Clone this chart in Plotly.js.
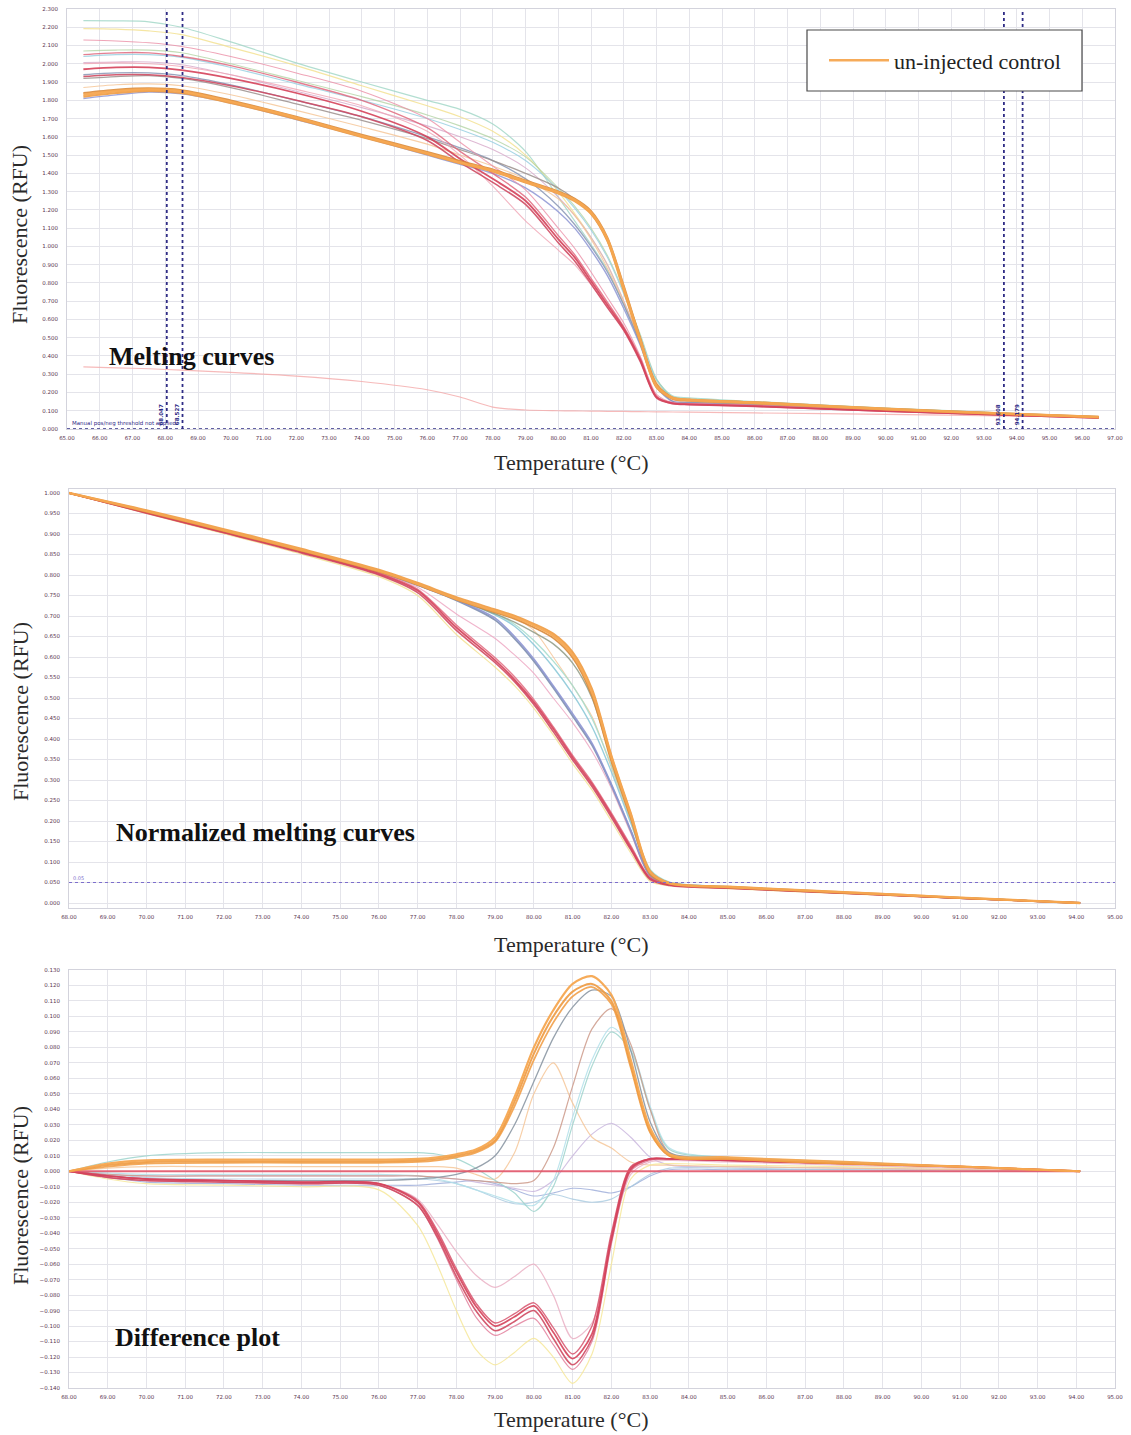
<!DOCTYPE html>
<html><head><meta charset="utf-8">
<script src="https://cdn.plot.ly/plotly-3.0.1.min.js"></script>
<style>html,body{margin:0;padding:0;background:#fff;}#chart{width:1131px;height:1435px;}</style>
</head><body><div id="chart"></div>
<script>
// ---------- Panel 1: melting curves (RFU) ----------
const T1 = [65.5, 66.5, 67.5, 68.5, 70, 72, 74, 76, 77, 78, 79, 80, 80.5, 81, 81.5, 82, 82.5, 83, 83.5, 84, 86, 90, 94, 96.5];
const mPinkLow = [0.34, 0.335, 0.33, 0.322, 0.31, 0.29, 0.26, 0.215, 0.175, 0.12, 0.104, 0.1, 0.099, 0.098, 0.097, 0.096, 0.095, 0.094, 0.093, 0.092, 0.088, 0.08, 0.071, 0.066];
const mTeal1 = [2.236, 2.235, 2.23, 2.2, 2.12, 2.005, 1.9, 1.8, 1.75, 1.67, 1.52, 1.27, 1.14, 1.01, 0.87, 0.68, 0.47, 0.27, 0.18, 0.17, 0.15, 0.115, 0.085, 0.068];
const mYellow1 = [2.193, 2.19, 2.18, 2.16, 2.09, 1.99, 1.88, 1.77, 1.71, 1.63, 1.5, 1.3, 1.18, 1.05, 0.9, 0.7, 0.48, 0.26, 0.17, 0.16, 0.145, 0.11, 0.082, 0.066];
const mGreen1 = [2.07, 2.075, 2.075, 2.06, 2.0, 1.91, 1.82, 1.72, 1.66, 1.59, 1.49, 1.32, 1.22, 1.1, 0.95, 0.75, 0.52, 0.275, 0.172, 0.163, 0.147, 0.113, 0.084, 0.067];
const mTeal2 = [2.04, 2.05, 2.05, 2.035, 1.98, 1.89, 1.8, 1.7, 1.64, 1.57, 1.47, 1.31, 1.21, 1.09, 0.94, 0.74, 0.51, 0.27, 0.17, 0.162, 0.146, 0.112, 0.083, 0.066];
const mLav1 = [2.007, 2.01, 2.01, 1.995, 1.94, 1.85, 1.76, 1.66, 1.6, 1.53, 1.43, 1.27, 1.17, 1.05, 0.9, 0.7, 0.48, 0.25, 0.16, 0.155, 0.14, 0.108, 0.08, 0.065];
const mPeach1 = [1.87, 1.885, 1.89, 1.88, 1.83, 1.745, 1.655, 1.56, 1.5, 1.44, 1.37, 1.26, 1.17, 1.04, 0.88, 0.69, 0.48, 0.25, 0.165, 0.158, 0.143, 0.11, 0.082, 0.066];
const mBlue1 = [1.81, 1.83, 1.845, 1.835, 1.785, 1.695, 1.6, 1.5, 1.45, 1.4, 1.32, 1.19, 1.1, 0.98, 0.84, 0.66, 0.46, 0.23, 0.15, 0.145, 0.132, 0.102, 0.078, 0.063];
const mBlue2 = [1.94, 1.95, 1.95, 1.935, 1.885, 1.8, 1.71, 1.6, 1.54, 1.47, 1.37, 1.22, 1.12, 1.0, 0.86, 0.68, 0.47, 0.24, 0.152, 0.146, 0.133, 0.103, 0.078, 0.063];
const mGray1 = [1.92, 1.93, 1.935, 1.92, 1.87, 1.78, 1.69, 1.59, 1.53, 1.47, 1.4, 1.32, 1.26, 1.18, 1.03, 0.77, 0.5, 0.24, 0.165, 0.158, 0.143, 0.11, 0.082, 0.066];
const mRed5 = [2.0, 2.005, 2.0, 1.985, 1.94, 1.86, 1.77, 1.63, 1.5, 1.33, 1.14, 0.98, 0.9, 0.79, 0.67, 0.54, 0.38, 0.18, 0.142, 0.137, 0.127, 0.099, 0.076, 0.062];
const mRed4 = [2.13, 2.125, 2.115, 2.095, 2.04, 1.95, 1.85, 1.7, 1.57, 1.44, 1.31, 1.1, 0.99, 0.86, 0.72, 0.58, 0.4, 0.19, 0.145, 0.14, 0.13, 0.1, 0.077, 0.063];
const mRed3 = [1.93, 1.94, 1.94, 1.925, 1.88, 1.8, 1.71, 1.58, 1.46, 1.35, 1.23, 1.02, 0.92, 0.795, 0.665, 0.54, 0.37, 0.17, 0.138, 0.133, 0.123, 0.097, 0.074, 0.06];
const mRed2 = [2.05, 2.06, 2.06, 2.04, 1.99, 1.9, 1.8, 1.65, 1.52, 1.4, 1.27, 1.06, 0.955, 0.825, 0.695, 0.56, 0.39, 0.18, 0.142, 0.137, 0.127, 0.099, 0.076, 0.062];
const mRed1 = [1.97, 1.98, 1.98, 1.965, 1.92, 1.84, 1.74, 1.6, 1.48, 1.37, 1.25, 1.04, 0.94, 0.81, 0.68, 0.55, 0.38, 0.175, 0.14, 0.135, 0.125, 0.098, 0.075, 0.061];
const mCtrl3 = [1.84, 1.858, 1.866, 1.856, 1.8, 1.71, 1.612, 1.518, 1.468, 1.422, 1.362, 1.302, 1.262, 1.195, 1.05, 0.785, 0.5, 0.245, 0.172, 0.162, 0.147, 0.112, 0.083, 0.067];
const mCtrl2 = [1.82, 1.84, 1.852, 1.84, 1.785, 1.698, 1.6, 1.505, 1.455, 1.41, 1.35, 1.29, 1.248, 1.178, 1.03, 0.76, 0.48, 0.228, 0.165, 0.155, 0.14, 0.107, 0.08, 0.064];
const mCtrl1 = [1.83, 1.85, 1.86, 1.85, 1.792, 1.705, 1.605, 1.51, 1.46, 1.415, 1.355, 1.295, 1.255, 1.185, 1.04, 0.77, 0.49, 0.235, 0.17, 0.16, 0.145, 0.11, 0.082, 0.066];
const thresholdsT = [68.047, 68.527, 93.608, 94.179];
const thresholdLabels = ['68.047', '68.527', '93.608', '94.179'];

// ---------- Panel 2: normalized melting curves ----------
const T2 = [68, 70, 72, 74, 76, 77, 78, 79, 79.5, 80, 80.5, 81, 81.5, 82, 82.5, 83, 83.5, 85, 88, 91, 94.1];
const nYellow = [1.0, 0.95, 0.901, 0.851, 0.796, 0.75, 0.655, 0.575, 0.53, 0.475, 0.41, 0.34, 0.276, 0.2, 0.122, 0.053, 0.042, 0.035, 0.023, 0.011, 0.0];
const nPink = [1.0, 0.953, 0.905, 0.857, 0.806, 0.77, 0.705, 0.645, 0.605, 0.56, 0.5, 0.44, 0.37, 0.28, 0.17, 0.065, 0.046, 0.038, 0.025, 0.012, 0.0];
const nPeach = [1.0, 0.957, 0.91, 0.862, 0.811, 0.779, 0.744, 0.712, 0.695, 0.665, 0.6, 0.53, 0.455, 0.33, 0.2, 0.075, 0.048, 0.039, 0.026, 0.013, 0.0];
const nTeal2 = [1.0, 0.956, 0.91, 0.862, 0.811, 0.779, 0.743, 0.706, 0.68, 0.64, 0.59, 0.53, 0.45, 0.335, 0.205, 0.082, 0.051, 0.04, 0.026, 0.013, 0.0];
const nTeal1 = [1.0, 0.956, 0.909, 0.861, 0.81, 0.778, 0.742, 0.703, 0.675, 0.63, 0.575, 0.51, 0.43, 0.32, 0.195, 0.078, 0.05, 0.04, 0.026, 0.013, 0.0];
const nBlue2 = [1.0, 0.955, 0.908, 0.86, 0.808, 0.775, 0.738, 0.69, 0.645, 0.59, 0.525, 0.456, 0.385, 0.287, 0.176, 0.067, 0.046, 0.038, 0.025, 0.012, 0.0];
const nBlue1 = [1.0, 0.955, 0.908, 0.86, 0.809, 0.776, 0.74, 0.695, 0.65, 0.595, 0.53, 0.462, 0.39, 0.29, 0.178, 0.068, 0.046, 0.038, 0.025, 0.012, 0.0];
const nGray = [1.0, 0.955, 0.908, 0.86, 0.809, 0.777, 0.741, 0.705, 0.685, 0.66, 0.632, 0.585, 0.5, 0.35, 0.212, 0.074, 0.048, 0.039, 0.026, 0.013, 0.0];
const nRed3 = [1.0, 0.953, 0.905, 0.857, 0.805, 0.765, 0.678, 0.598, 0.552, 0.496, 0.43, 0.36, 0.295, 0.22, 0.14, 0.062, 0.045, 0.037, 0.025, 0.012, 0.0];
const nRed2 = [1.0, 0.951, 0.903, 0.854, 0.8, 0.757, 0.665, 0.586, 0.54, 0.484, 0.418, 0.349, 0.284, 0.209, 0.13, 0.057, 0.043, 0.036, 0.024, 0.012, 0.0];
const nRed1 = [1.0, 0.952, 0.904, 0.856, 0.803, 0.762, 0.672, 0.592, 0.545, 0.49, 0.425, 0.355, 0.29, 0.215, 0.135, 0.06, 0.044, 0.037, 0.024, 0.012, 0.0];
const nCtrl3 = [1.0, 0.954, 0.907, 0.859, 0.808, 0.776, 0.74, 0.709, 0.693, 0.672, 0.646, 0.598, 0.505, 0.345, 0.207, 0.07, 0.047, 0.038, 0.025, 0.012, 0.0];
const nCtrl2 = [1.0, 0.958, 0.912, 0.864, 0.813, 0.781, 0.746, 0.716, 0.701, 0.681, 0.657, 0.612, 0.522, 0.36, 0.22, 0.078, 0.049, 0.04, 0.027, 0.013, 0.0];
const nCtrl1 = [1.0, 0.956, 0.909, 0.861, 0.81, 0.778, 0.742, 0.712, 0.697, 0.677, 0.652, 0.605, 0.515, 0.355, 0.215, 0.075, 0.048, 0.039, 0.026, 0.013, 0.0];
const normThreshold = 0.05;

// ---------- Panel 3: difference plot ----------
const T3 = [68, 69, 70, 72, 74, 76, 77, 77.5, 78, 78.5, 79, 79.5, 80, 80.5, 81, 81.5, 82, 82.5, 83, 83.5, 85, 88, 91, 94.1];
const dBlue1 = [0, -0.004, -0.007, -0.008, -0.009, -0.009, -0.009, -0.008, -0.007, -0.006, -0.008, -0.012, -0.016, -0.014, -0.011, -0.012, -0.014, -0.01, -0.003, 0.001, 0.001, 0.001, 0, 0];
const dBlue2 = [0, -0.002, -0.004, -0.005, -0.005, -0.005, -0.005, -0.006, -0.008, -0.012, -0.017, -0.021, -0.02, -0.015, -0.018, -0.02, -0.018, -0.01, -0.002, 0.002, 0.002, 0.001, 0.001, 0];
const dLav = [0, -0.002, -0.003, -0.003, -0.003, -0.003, -0.003, -0.004, -0.005, -0.007, -0.009, -0.011, -0.013, -0.006, 0.01, 0.024, 0.031, 0.022, 0.009, 0.004, 0.003, 0.002, 0.001, 0];
const dPeach = [0, 0.002, 0.003, 0.003, 0.003, 0.003, 0.003, 0.003, 0.002, -0.002, -0.005, 0.012, 0.05, 0.07, 0.044, 0.022, 0.015, 0.006, 0.004, 0.004, 0.003, 0.002, 0.001, 0];
const dTeal2 = [0, -0.001, -0.002, -0.002, -0.002, -0.002, -0.003, -0.005, -0.008, -0.012, -0.016, -0.02, -0.022, -0.006, 0.035, 0.072, 0.093, 0.08, 0.042, 0.015, 0.009, 0.006, 0.003, 0];
const dTeal1 = [0, 0.006, 0.01, 0.012, 0.012, 0.012, 0.012, 0.011, 0.008, 0.002, -0.006, -0.014, -0.026, -0.01, 0.03, 0.068, 0.09, 0.078, 0.04, 0.014, 0.009, 0.006, 0.003, 0];
const dBrown = [0, -0.002, -0.003, -0.003, -0.003, -0.003, -0.003, -0.004, -0.005, -0.006, -0.007, -0.008, -0.006, 0.015, 0.055, 0.092, 0.105, 0.082, 0.04, 0.012, 0.008, 0.005, 0.003, 0];
const dGray = [0, -0.003, -0.005, -0.006, -0.006, -0.006, -0.005, -0.004, -0.002, 0.002, 0.01, 0.03, 0.058, 0.086, 0.106, 0.117, 0.113, 0.078, 0.032, 0.012, 0.009, 0.006, 0.003, 0];
const dYellow = [0, -0.005, -0.008, -0.009, -0.01, -0.012, -0.035, -0.06, -0.09, -0.115, -0.125, -0.117, -0.108, -0.12, -0.137, -0.118, -0.06, -0.005, 0.004, 0.005, 0.004, 0.003, 0.002, 0];
const dPink = [0, -0.003, -0.005, -0.006, -0.007, -0.008, -0.018, -0.034, -0.052, -0.067, -0.075, -0.068, -0.06, -0.08, -0.108, -0.098, -0.045, -0.002, 0.006, 0.007, 0.006, 0.004, 0.002, 0];
const dRed4 = [0, -0.004, -0.006, -0.007, -0.008, -0.009, -0.022, -0.043, -0.07, -0.094, -0.106, -0.1, -0.095, -0.112, -0.128, -0.11, -0.047, 0.0, 0.007, 0.008, 0.007, 0.005, 0.003, 0];
const dRed3 = [0, -0.003, -0.005, -0.006, -0.007, -0.008, -0.019, -0.038, -0.063, -0.085, -0.098, -0.092, -0.085, -0.101, -0.118, -0.1, -0.04, 0.003, 0.008, 0.008, 0.007, 0.005, 0.003, 0];
const dRed2 = [0, -0.004, -0.006, -0.007, -0.008, -0.009, -0.022, -0.042, -0.068, -0.09, -0.103, -0.097, -0.09, -0.108, -0.125, -0.108, -0.045, 0.001, 0.008, 0.008, 0.007, 0.005, 0.003, 0];
const dRed1 = [0, -0.003, -0.005, -0.006, -0.007, -0.008, -0.02, -0.04, -0.065, -0.087, -0.1, -0.094, -0.087, -0.104, -0.121, -0.105, -0.043, 0.002, 0.008, 0.008, 0.007, 0.005, 0.003, 0];
const dReference = [0, 0, 0, 0, 0, 0, 0, 0, 0, 0, 0, 0, 0, 0, 0, 0, 0, 0, 0, 0, 0, 0, 0, 0];
const dCtrl3 = [0, 0.003, 0.005, 0.0055, 0.0055, 0.0055, 0.006, 0.007, 0.009, 0.012, 0.019, 0.042, 0.072, 0.096, 0.113, 0.119, 0.108, 0.067, 0.025, 0.01, 0.008, 0.005, 0.003, 0];
const dCtrl2 = [0, 0.004, 0.006, 0.0065, 0.0065, 0.0065, 0.007, 0.008, 0.01, 0.013, 0.02, 0.045, 0.076, 0.1, 0.116, 0.121, 0.11, 0.069, 0.026, 0.01, 0.008, 0.005, 0.003, 0];
const dCtrl1 = [0, 0.005, 0.007, 0.0075, 0.0075, 0.0075, 0.008, 0.009, 0.011, 0.014, 0.022, 0.048, 0.08, 0.104, 0.121, 0.126, 0.114, 0.072, 0.028, 0.011, 0.009, 0.006, 0.003, 0];

// ---------- text ----------
const legendName = 'un-injected control';
const panelTitles = ['Melting curves', 'Normalized melting curves', 'Difference plot'];
const xTitle = 'Temperature (°C)';
const yTitle = 'Fluorescence (RFU)';
const thresholdNote = 'Manual pos/neg threshold not applied';

// ---------- build ----------
const W = 1131, H = 1435;
const px = v => v / W, py = v => 1 - v / H;
const traces = [];
function addLine(x, y, axis, color, width, opacity, legend) {
  traces.push({
    type: 'scatter', mode: 'lines', x: x, y: y,
    xaxis: 'x' + axis, yaxis: 'y' + axis,
    line: {color: color, width: width, shape: 'spline', smoothing: 0.8},
    opacity: opacity, hoverinfo: 'skip',
    name: legend ? legendName : '', showlegend: !!legend
  });
}
// panel 1
addLine(T1, mPinkLow, '', '#f4a9a9', 1.2, 0.8);
addLine(T1, mTeal1, '', '#9fd6c6', 1.2, 0.8);
addLine(T1, mYellow1, '', '#f3e08c', 1.2, 0.8);
addLine(T1, mGreen1, '', '#a9cf9a', 1.1, 0.7);
addLine(T1, mTeal2, '', '#93cde0', 1.1, 0.8);
addLine(T1, mLav1, '', '#d7a9c9', 1.1, 0.8);
addLine(T1, mPeach1, '', '#f5c392', 1.1, 0.8);
addLine(T1, mBlue1, '', '#8d95d3', 1.4, 0.85);
addLine(T1, mBlue2, '', '#8795b4', 1.3, 0.85);
addLine(T1, mGray1, '', '#9b8f8c', 1.3, 0.85);
addLine(T1, mRed5, '', '#f0a4b4', 1.1, 0.8);
addLine(T1, mRed4, '', '#eb8fa6', 1.1, 0.8);
addLine(T1, mRed3, '', '#cf4a62', 1.5, 0.9);
addLine(T1, mRed2, '', '#e0687e', 1.4, 0.85);
addLine(T1, mRed1, '', '#d5415a', 1.8, 0.9);
addLine(T1, mCtrl3, '', '#d98a3a', 1.8, 0.9);
addLine(T1, mCtrl2, '', '#ee9a40', 2.2, 0.9);
addLine(T1, mCtrl1, '', '#f5a650', 2.6, 0.95, true);
// panel 2
addLine(T2, nYellow, '2', '#f3e08c', 1.2, 0.8);
addLine(T2, nPink, '2', '#eca3bf', 1.1, 0.8);
addLine(T2, nPeach, '2', '#f5c392', 1.1, 0.8);
addLine(T2, nTeal2, '2', '#a3dccd', 1.4, 0.85);
addLine(T2, nTeal1, '2', '#86c5d6', 1.4, 0.85);
addLine(T2, nBlue2, '2', '#7e8fb0', 1.8, 0.9);
addLine(T2, nBlue1, '2', '#8d95d3', 1.6, 0.9);
addLine(T2, nGray, '2', '#8f9a84', 1.4, 0.85);
addLine(T2, nRed3, '2', '#e0687e', 1.4, 0.85);
addLine(T2, nRed2, '2', '#cf4a62', 1.6, 0.9);
addLine(T2, nRed1, '2', '#d5415a', 1.8, 0.9);
addLine(T2, nCtrl3, '2', '#d98a3a', 1.8, 0.9);
addLine(T2, nCtrl2, '2', '#ee9a40', 2.0, 0.9);
addLine(T2, nCtrl1, '2', '#f5a650', 2.4, 0.95);
// panel 3
addLine(T3, dBlue1, '3', '#9aaad8', 1.1, 0.8);
addLine(T3, dBlue2, '3', '#a9cbe0', 1.1, 0.8);
addLine(T3, dLav, '3', '#c7b3dc', 1.2, 0.8);
addLine(T3, dPeach, '3', '#f5c392', 1.2, 0.8);
addLine(T3, dTeal2, '3', '#b3e0ea', 1.2, 0.85);
addLine(T3, dTeal1, '3', '#9dd3cc', 1.2, 0.85);
addLine(T3, dBrown, '3', '#cc9a8a', 1.2, 0.85);
addLine(T3, dGray, '3', '#8c98a4', 1.3, 0.9);
addLine(T3, dYellow, '3', '#f6e79a', 1.2, 0.85);
addLine(T3, dPink, '3', '#eab0c4', 1.2, 0.85);
addLine(T3, dRed4, '3', '#e3819d', 1.2, 0.85);
addLine(T3, dRed3, '3', '#d85c74', 1.4, 0.9);
addLine(T3, dRed2, '3', '#cf4a62', 1.6, 0.9);
addLine(T3, dRed1, '3', '#d5415a', 1.8, 0.9);
addLine(T3, dReference, '3', '#e2566a', 1.8, 0.9);
addLine(T3, dCtrl3, '3', '#f1a04a', 1.8, 0.9);
addLine(T3, dCtrl2, '3', '#ee9a40', 2.0, 0.9);
addLine(T3, dCtrl1, '3', '#f5a650', 2.2, 0.95);

const tickFont = {family: 'DejaVu Sans', size: 5.5, color: '#5b3550'};
const grid = '#e4e4ea';
function xAxis(domain, range, anchor) {
  return {domain: domain, range: range, anchor: anchor, dtick: 1, tick0: 0, tickformat: '.2f',
    showgrid: true, gridcolor: grid, gridwidth: 1, zeroline: false,
    showline: true, linecolor: '#d3d3dc', linewidth: 1, mirror: true,
    ticks: '', tickfont: tickFont, ticklabelstandoff: 3, fixedrange: true};
}
function yAxis(domain, range, dtick, anchor) {
  return {domain: domain, range: range, anchor: anchor, dtick: dtick, tick0: 0, tickformat: '.3f',
    showgrid: true, gridcolor: grid, gridwidth: 1, zeroline: false,
    showline: true, linecolor: '#d3d3dc', linewidth: 1, mirror: true,
    ticks: '', tickfont: tickFont, ticklabelstandoff: 7, fixedrange: true};
}

const serif = 'Liberation Serif, Times New Roman, serif';
const annotations = [];
function paperText(text, x, y, opts) {
  annotations.push(Object.assign({text: text, xref: 'paper', yref: 'paper', x: px(x), y: py(y),
    showarrow: false, font: {family: serif, size: 22, color: '#2a2a2a'}}, opts || {}));
}
[463, 944, 1419].forEach(v => paperText(xTitle, 571, v, {xanchor: 'center', yanchor: 'middle'}));
[235, 712, 1196].forEach(v => paperText(yTitle, 20, v, {xanchor: 'center', yanchor: 'middle', textangle: -90}));
const titleFont = {family: serif, size: 26, color: '#111'};
paperText('<b>' + panelTitles[0] + '</b>', 107, 356, {xanchor: 'left', yanchor: 'middle', font: titleFont});
paperText('<b>' + panelTitles[1] + '</b>', 114, 832, {xanchor: 'left', yanchor: 'middle', font: titleFont});
paperText('<b>' + panelTitles[2] + '</b>', 113, 1337, {xanchor: 'left', yanchor: 'middle', font: titleFont});

const navy = '#2f2c86';
const shapes = [];
thresholdsT.forEach((t, i) => {
  shapes.push({type: 'line', xref: 'x', yref: 'y', x0: t, x1: t, y0: 0, y1: 2.3,
    line: {color: navy, width: 1.8, dash: 'dot'}});
  annotations.push({text: '<b>' + thresholdLabels[i] + '</b>', xref: 'x', yref: 'y', x: t, y: 0.01,
    xanchor: 'right', yanchor: 'bottom', textangle: -90, showarrow: false, xshift: -1,
    font: {family: 'DejaVu Sans', size: 5.5, color: navy}});
});
shapes.push({type: 'line', xref: 'x', yref: 'y', x0: 65, x1: 97, y0: 0, y1: 0,
  line: {color: navy, width: 1.5, dash: 'dot'}});
annotations.push({text: thresholdNote, xref: 'x', yref: 'y', x: 65.1, y: 0, xanchor: 'left', yanchor: 'bottom',
  showarrow: false, font: {family: 'DejaVu Sans', size: 5.5, color: navy}});
shapes.push({type: 'line', xref: 'x2', yref: 'y2', x0: 68, x1: 95, y0: normThreshold, y1: normThreshold,
  line: {color: '#7d6fcc', width: 1.2, dash: 'dot'}});
annotations.push({text: normThreshold.toFixed(2), xref: 'x2', yref: 'y2', x: 68.05, y: normThreshold, xanchor: 'left', yanchor: 'bottom',
  showarrow: false, font: {family: 'DejaVu Sans', size: 5, color: '#7d6fcc'}});
// legend frame
shapes.push({type: 'rect', xref: 'paper', yref: 'paper', x0: px(807), x1: px(1082), y0: py(91), y1: py(30),
  fillcolor: '#ffffff', line: {color: '#4a4a4a', width: 1.2}, layer: 'above'});

const layout = {
  width: W, height: H, margin: {l: 0, r: 0, t: 0, b: 0},
  paper_bgcolor: '#ffffff', plot_bgcolor: '#ffffff',
  showlegend: true,
  legend: {x: px(824), y: py(60.5), xanchor: 'left', yanchor: 'middle', bgcolor: 'rgba(0,0,0,0)', borderwidth: 0,
    itemwidth: 60, font: {family: serif, size: 22, color: '#222'}},
  xaxis: xAxis([px(67), px(1115)], [65, 97], 'y'),
  yaxis: yAxis([py(429), py(9)], [0, 2.3], 0.1, 'x'),
  xaxis2: xAxis([px(69), px(1115)], [68, 95], 'y2'),
  yaxis2: yAxis([py(908), py(489)], [-0.0122, 1.0098], 0.05, 'x2'),
  xaxis3: xAxis([px(69), px(1115)], [68, 95], 'y3'),
  yaxis3: yAxis([py(1388), py(970)], [-0.14, 0.13], 0.01, 'x3'),
  shapes: shapes, annotations: annotations
};
Plotly.newPlot('chart', traces, layout, {displayModeBar: false, staticPlot: true});
</script></body></html>
